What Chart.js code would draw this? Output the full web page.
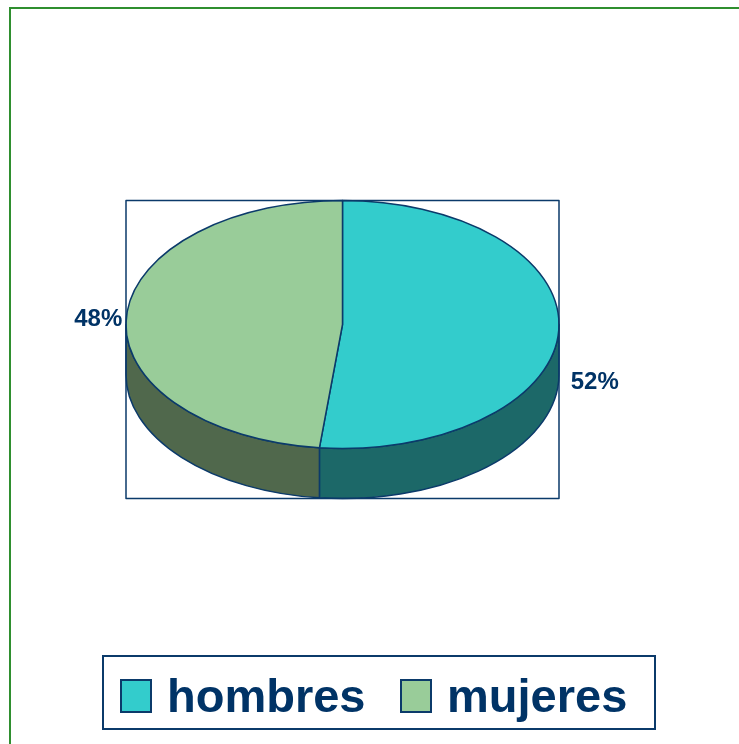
<!DOCTYPE html>
<html>
<head>
<meta charset="utf-8">
<script src="https://cdn.jsdelivr.net/npm/chart.js@4.4.1/dist/chart.umd.min.js"></script>
<style>
  html, body { margin: 0; padding: 0; background: #fff; }
  #wrap { position: relative; width: 739px; height: 744px; overflow: hidden; }
  #frame { position: absolute; left: 9px; top: 7px; width: 800px; height: 800px;
           border-left: 2px solid #2f8f2f; border-top: 2px solid #2f8f2f; }
  #pie { position: absolute; left: 0; top: 0; }
  #legend { position: absolute; left: 102px; top: 655px; width: 550px; height: 71px;
            border: 2px solid #0b3a6a; background: #fff;
            font-family: "Liberation Sans", Arial, sans-serif; font-weight: bold;
            font-size: 47px; color: #003366; }
  .item { position: absolute; top: 3px; height: 71px; display: flex; align-items: center; }
  .swatch { width: 28px; height: 30px; border: 2px solid #0b3a6a; margin-right: 15px; }
</style>
</head>
<body>
<div id="wrap">
  <div id="frame"></div>
  <canvas id="pie" width="739" height="744"></canvas>
  <div id="legend"></div>
</div>
<script>
// datos
const categories = ['hombres', 'mujeres'];
const shares = [51.7, 48.3];
const topColors = ['#33CCCC', '#99CC99'];
const sideColors = ['#1c6868', '#50684c'];

const TILT = 0.573;   // achatamiento vertical de la elipse
const DEPTH = 50;     // grosor del pastel
const EDGE = '#0b3a6a';

/**
 * Dibuja el pastel 3D usando los arcos calculados por Chart.js
 */
const pie3d = {
  id: 'pie3d',
  beforeDatasetsDraw(chart) {
    const ctx = chart.ctx;
    const arcs = chart.getDatasetMeta(0).data;
    const cx = arcs[0].x, cy = arcs[0].y, r = arcs[0].outerRadius;
    const ry = r * TILT;
    const total = shares.reduce((s, v) => s + v, 0);

    ctx.save();
    ctx.lineWidth = 1.5;
    ctx.strokeStyle = EDGE;
    ctx.lineJoin = 'round';

    // paredes frontales
    arcs.forEach((a, i) => {
      for (let k = -1; k <= 1; k++) {
        const lo = Math.max(a.startAngle, 2 * Math.PI * k);
        const hi = Math.min(a.endAngle, 2 * Math.PI * k + Math.PI);
        if (lo >= hi) continue;
        ctx.beginPath();
        ctx.ellipse(cx, cy, r, ry, 0, lo, hi);
        ctx.ellipse(cx, cy + DEPTH, r, ry, 0, hi, lo, true);
        ctx.closePath();
        ctx.fillStyle = sideColors[i];
        ctx.fill();
        ctx.stroke();
      }
    });

    // cara superior
    arcs.forEach((a, i) => {
      ctx.beginPath();
      ctx.moveTo(cx, cy);
      ctx.ellipse(cx, cy, r, ry, 0, a.startAngle, a.endAngle);
      ctx.closePath();
      ctx.fillStyle = topColors[i];
      ctx.fill();
      ctx.stroke();
    });

    // marco del area de trazado
    ctx.lineWidth = 1.5;
    ctx.strokeRect(cx - r, cy - ry, 2 * r, 2 * ry + DEPTH);

    // etiquetas de porcentaje
    ctx.font = 'bold 24px "Liberation Sans", Arial, sans-serif';
    ctx.fillStyle = '#003366';
    ctx.textBaseline = 'alphabetic';
    arcs.forEach((a, i) => {
      const mid = (a.startAngle + a.endAngle) / 2;
      const px = cx + r * Math.cos(mid);
      let py = cy + ry * Math.sin(mid);
      if (Math.sin(mid) > 0) py += DEPTH;
      const right = Math.cos(mid) >= 0;
      const pct = Math.round(shares[i] / total * 100) + '%';
      ctx.textAlign = right ? 'left' : 'right';
      ctx.fillText(pct, right ? px + 12 : px - 4, py + 8);
    });

    ctx.restore();
    return false;
  }
};

new Chart(document.getElementById('pie'), {
  type: 'pie',
  data: {
    labels: categories,
    datasets: [{
      data: shares,
      backgroundColor: topColors,
      borderWidth: 0,
      hoverOffset: 0
    }]
  },
  options: {
    responsive: false,
    animation: false,
    events: [],
    layout: { padding: { left: 126, right: 180, top: 108, bottom: 203 } },
    plugins: {
      legend: { display: false },
      tooltip: { enabled: false }
    }
  },
  plugins: [pie3d]
});

// leyenda
const legend = document.getElementById('legend');
const itemLeft = [16, 296];
categories.forEach((name, i) => {
  const item = document.createElement('div');
  item.className = 'item';
  item.style.left = itemLeft[i] + 'px';
  item.innerHTML = '<div class="swatch" style="background:' + topColors[i] + '"></div><span>' + name + '</span>';
  legend.appendChild(item);
});
</script>
</body>
</html>
